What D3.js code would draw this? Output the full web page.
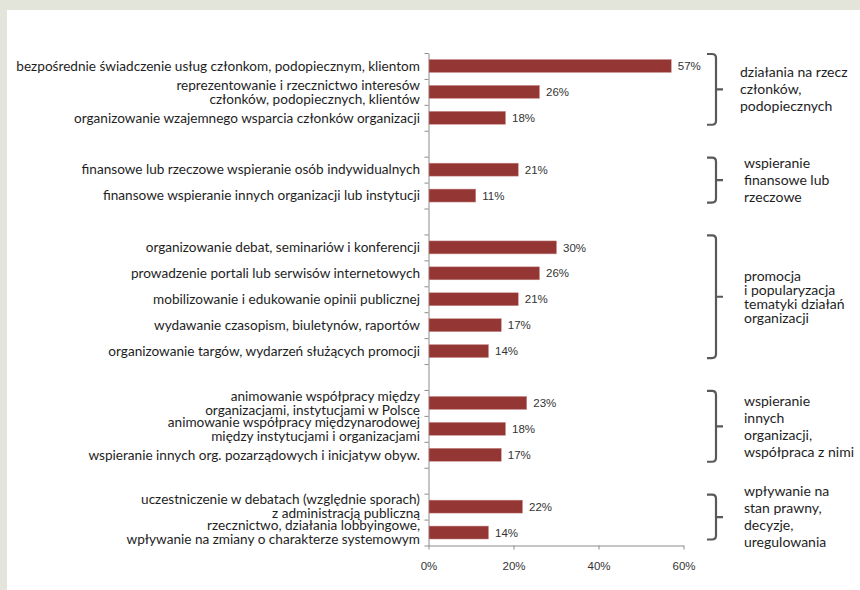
<!DOCTYPE html>
<html>
<head>
<meta charset="utf-8">
<script src="https://cdn.jsdelivr.net/npm/d3@7"></script>
<style>
  html, body { margin: 0; padding: 0; background: #ffffff; }
  svg { display: block; }
</style>
</head>
<body>
<svg id="chart" width="860" height="590"></svg>
<script>
// Activity labels (line breaks marked with "\n"), in display order
const labels = [
  "bezpośrednie świadczenie usług członkom, podopiecznym, klientom",
  "reprezentowanie i rzecznictwo interesów\nczłonków, podopiecznych, klientów",
  "organizowanie wzajemnego wsparcia członków organizacji",
  "finansowe lub rzeczowe wspieranie osób indywidualnych",
  "finansowe wspieranie innych organizacji lub instytucji",
  "organizowanie debat, seminariów i konferencji",
  "prowadzenie portali lub serwisów internetowych",
  "mobilizowanie i edukowanie opinii publicznej",
  "wydawanie czasopism, biuletynów, raportów",
  "organizowanie targów, wydarzeń służących promocji",
  "animowanie współpracy między\norganizacjami, instytucjami w Polsce",
  "animowanie współpracy międzynarodowej\nmiędzy instytucjami i organizacjami",
  "wspieranie innych org. pozarządowych i inicjatyw obyw.",
  "uczestniczenie w debatach (względnie sporach)\nz administracją publiczną",
  "rzecznictwo, działania lobbyingowe,\nwpływanie na zmiany o charakterze systemowym"
];

// Share of organisations (%)
const values = [57, 26, 18, 21, 11, 30, 26, 21, 17, 14, 23, 18, 17, 22, 14];

// Activity groups: name lines and number of activities in each
const groupNames = [
  ["działania na rzecz", "członków,", "podopiecznych"],
  ["wspieranie", "finansowe lub", "rzeczowe"],
  ["promocja", "i popularyzacja", "tematyki działań", "organizacji"],
  ["wspieranie", "innych", "organizacji,", "współpraca  z nimi"],
  ["wpływanie na", "stan prawny,", "decyzje,", "uregulowania"]
];
const groupSizes = [3, 2, 5, 3, 2];

// X axis ticks (%)
const xTicks = [0, 20, 40, 60];

// Build the row slots: activities of each group followed by an empty spacer row
const slots = [];
const groupSpans = [];
let idx = 0;
groupSizes.forEach((n, g) => {
  const first = slots.length;
  for (let i = 0; i < n; i++) {
    slots.push({ key: "a" + idx, label: labels[idx], value: values[idx] });
    idx++;
  }
  groupSpans.push({ first: first, last: slots.length - 1, name: groupNames[g] });
  if (g < groupSizes.length - 1) slots.push({ key: "gap" + g, label: null, value: null });
});

const svg = d3.select("#chart");
const W = 860, H = 590;

// Page frame strips
svg.append("rect").attr("x", 0).attr("y", 0).attr("width", W).attr("height", H).attr("fill", "#ffffff");
svg.append("rect").attr("x", 0).attr("y", 0).attr("width", W).attr("height", 10).attr("fill", "#e3e5da");
svg.append("rect").attr("x", 0).attr("y", 0).attr("width", 7).attr("height", H).attr("fill", "#e3e5da");

const x0 = 428.5, x1 = 683.5, yTop = 53, yBot = 545.5;

const x = d3.scaleLinear().domain([0, 60]).range([x0, x1]);
const y = d3.scaleBand()
  .domain(slots.map(d => d.key))
  .range([yTop, yBot])
  .paddingInner(0.5)
  .paddingOuter(0.25);

// Boundary scale for the category ticks on the vertical axis
const yb = d3.scaleLinear().domain([0, slots.length]).range([yTop, yBot]);

const labelFont = "Lato, 'Noto Sans', sans-serif";
const numFont = "'Liberation Sans', Arial, sans-serif";

// Vertical axis with ticks between rows
const yAxis = svg.append("g")
  .attr("transform", `translate(${x0},0)`)
  .call(d3.axisLeft(yb).tickValues(d3.range(slots.length + 1)).tickSize(4).tickSizeOuter(0).tickFormat(""));
yAxis.select(".domain").attr("stroke", "#8c8c8c");
yAxis.selectAll(".tick line").attr("stroke", "#8c8c8c");

// Horizontal axis
const xAxis = svg.append("g")
  .attr("transform", `translate(0,${yBot})`)
  .call(d3.axisBottom(x).tickValues(xTicks).tickSize(4).tickSizeOuter(0).tickPadding(12).tickFormat(d => d + "%"));
xAxis.select(".domain").attr("stroke", "#8c8c8c");
xAxis.selectAll(".tick line").attr("stroke", "#8c8c8c");
xAxis.selectAll(".tick text")
  .attr("font-family", numFont).attr("font-size", 11.5).attr("fill", "#333333");

const rows = slots.filter(d => d.label !== null);

// Bars
svg.append("g").selectAll("rect")
  .data(rows)
  .join("rect")
  .attr("x", x(0) + 0.5)
  .attr("y", d => y(d.key))
  .attr("width", d => x(d.value) - x(0))
  .attr("height", y.bandwidth())
  .attr("fill", "#943634")
  .attr("stroke", "#c9908e")
  .attr("stroke-width", 0.5);

// Value labels
svg.append("g").selectAll("text")
  .data(rows)
  .join("text")
  .attr("x", d => x(d.value) + 7)
  .attr("y", d => y(d.key) + y.bandwidth() / 2)
  .attr("dy", "0.36em")
  .attr("font-family", numFont)
  .attr("font-size", 11.5)
  .attr("fill", "#333333")
  .text(d => d.value + "%");

// Category labels (right-aligned next to the axis)
const lineH = 14;
const catLabels = svg.append("g").selectAll("text")
  .data(rows)
  .join("text")
  .attr("text-anchor", "end")
  .attr("font-family", labelFont)
  .attr("font-size", 13.6)
  .attr("fill", "#1e1e1e");
catLabels.each(function (d) {
  const lines = d.label.split("\n");
  const cy = y(d.key) + y.bandwidth() / 2;
  const start = cy - (lines.length - 1) * lineH / 2;
  d3.select(this).selectAll("tspan")
    .data(lines)
    .join("tspan")
    .attr("x", 420)
    .attr("y", (l, i) => start + i * lineH)
    .attr("dy", "0.35em")
    .text(l => l);
});

// Group braces and captions
const bx0 = 707, bx1 = 716, bx2 = 723, r = 4;
const groupG = svg.append("g");
groupSpans.forEach((gs, g) => {
  const top = yb(gs.first) + 1;
  const bot = yb(gs.last + 1) - 6;
  const mid = (top + bot) / 2;
  groupG.append("path")
    .attr("d", `M${bx0},${top} L${bx1 - r},${top} Q${bx1},${top} ${bx1},${top + r} L${bx1},${bot - r} Q${bx1},${bot} ${bx1 - r},${bot} L${bx0},${bot} M${bx1},${mid} L${bx2},${mid}`)
    .attr("fill", "none")
    .attr("stroke", "#595959")
    .attr("stroke-width", 2.2);
  const lh = g === 2 ? 14 : 17;
  const startY = mid - (gs.name.length - 1) * lh / 2;
  const t = groupG.append("text")
    .attr("font-family", labelFont)
    .attr("font-size", 14)
    .attr("fill", "#1e1e1e");
  t.selectAll("tspan")
    .data(gs.name)
    .join("tspan")
    .attr("x", g === 0 ? 740 : 744)
    .attr("y", (l, i) => startY + i * lh)
    .attr("dy", "0.35em")
    .text(l => l);
});
</script>
</body>
</html>
